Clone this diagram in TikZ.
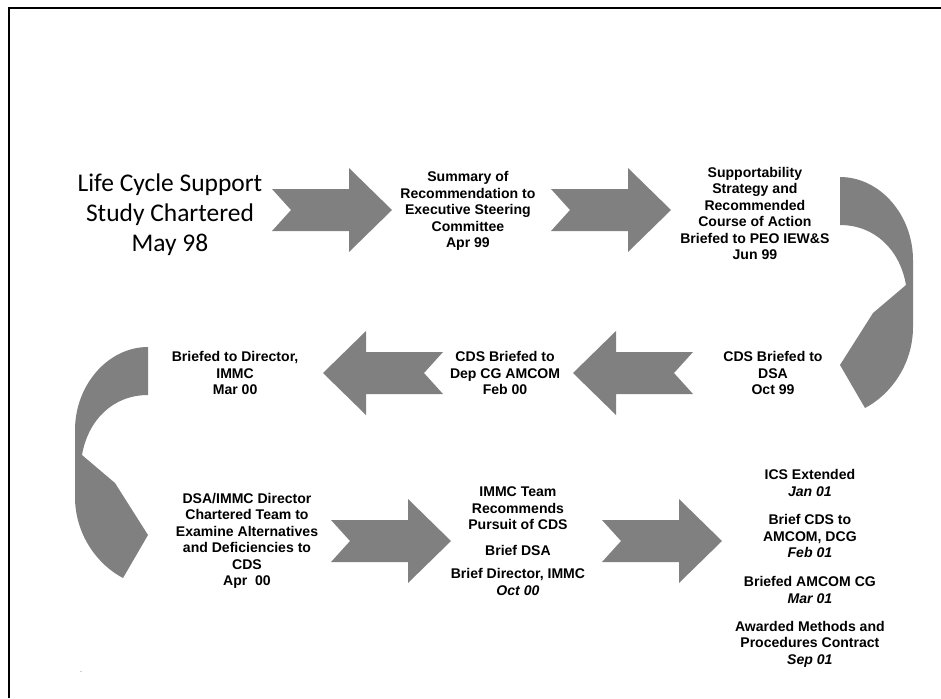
\documentclass[tikz,border=0pt]{standalone}
\usepackage{fontspec}
\setmainfont{Liberation Sans}
\newfontfamily\titlefont{Carlito}
\usepackage{tikz}
\usetikzlibrary{positioning}
\definecolor{arrowgray}{HTML}{808080}
\tikzset{
    event/.style={
           align=center,
           inner sep=0pt,
           font=\fontsize{8}{9.4}\selectfont\bfseries,
           },
    title/.style={
           align=center,
           inner sep=0pt,
           font=\titlefont\fontsize{14.5}{17}\selectfont,
           },
    frame/.style={
           line width=1.1pt,
           },
    notched/.pic={
           \fill[arrowgray] (-60,-21) -- (17,-21) -- (17,-42) -- (60,0)
              -- (17,42) -- (17,21) -- (-60,21) -- (-41,0) -- cycle;
           },
    curved/.pic={
           \fill[arrowgray] (0,0) .. controls (40,0) and (73,38) .. (73,83)
              -- (73,150) .. controls (73,188) and (50,218) .. (25,231)
              -- (0,188) -- (33,136) -- (66,108)
              .. controls (60,73) and (35,48) .. (0,48) -- cycle;
           },
}
\begin{document}
\begin{tikzpicture}
[
x=0.02cm,y=-0.02cm
]
\useasboundingbox (0,0) rectangle (941,698);

 % frame, only top and left show
 \draw[frame] (9,698) -- (9,8) -- (941,8);

 % First row
 \node[title] (START) at (170,215)
 {%
 Life Cycle Support\\
 Study Chartered\\
 May 98
 };

 \node[event,
 right of=START,
 node distance=5.96cm,
 yshift=0.08cm] (SUMMARY)
 {%
 Summary of\\
 Recommendation to\\
 Executive Steering\\
 Committee\\
 Apr 99
 };

 \node[event,
 right of=SUMMARY,
 node distance=5.74cm,
 yshift=-0.05cm] (SUPPORT)
 {%
 Supportability\\
 Strategy and\\
 Recommended\\
 Course of Action\\
 Briefed to PEO IEW\&S\\
 Jun 99
 };

 % Second row, right to left
 \node[event] (DSA) at (773,373)
 {%
 CDS Briefed to\\
 DSA\\
 Oct 99
 };

 \node[event,
 left of=DSA,
 node distance=5.36cm] (DEPCG)
 {%
 CDS Briefed to\\
 Dep CG AMCOM\\
 Feb 00
 };

 \node[event,
 left of=DEPCG,
 node distance=5.4cm] (DIRECTOR)
 {%
 Briefed to Director,\\
 IMMC\\
 Mar 00
 };

 % Third row
 \node[event] (TEAM) at (247,541)
 {%
 DSA/IMMC Director\\
 Chartered Team to\\
 Examine Alternatives\\
 and Deficiencies to\\
 CDS\\
 Apr~~00
 };

 \node[event,
 right of=TEAM,
 node distance=5.42cm] (PURSUIT)
 {%
 IMMC Team\\
 Recommends\\
 Pursuit of CDS\\[5.5pt]
 Brief DSA\\[3.5pt]
 Brief Director, IMMC\\
 \textit{Oct 00}
 };

 \node[event,
 right of=PURSUIT,
 node distance=5.84cm,
 yshift=-0.55cm] (EXTENDED)
 {%
 ICS Extended\\
 \textit{Jan 01}\\[6.8pt]
 Brief CDS to\\
 AMCOM, DCG\\
 \textit{Feb 01}\\[7pt]
 Briefed AMCOM CG\\
 \textit{Mar 01}\\[6.5pt]
 Awarded Methods and\\
 Procedures Contract\\
 \textit{Sep 01}
 };

 \node[font=\tiny, text=arrowgray, inner sep=0pt] (DOT) at (81,672) {.};

 % block arrows between the steps
 \pic at (332,210) {notched};
 \pic at (611,210) {notched};
 \pic[xscale=-1] at (633,373) {notched};
 \pic[xscale=-1] at (383,373) {notched};
 \pic at (391,541) {notched};
 \pic at (662,541) {notched};

 % turning arrows at the row ends
 \pic at (840,177) {curved};
 \pic[xscale=-1] at (148,347) {curved};

\end{tikzpicture}
\end{document}
